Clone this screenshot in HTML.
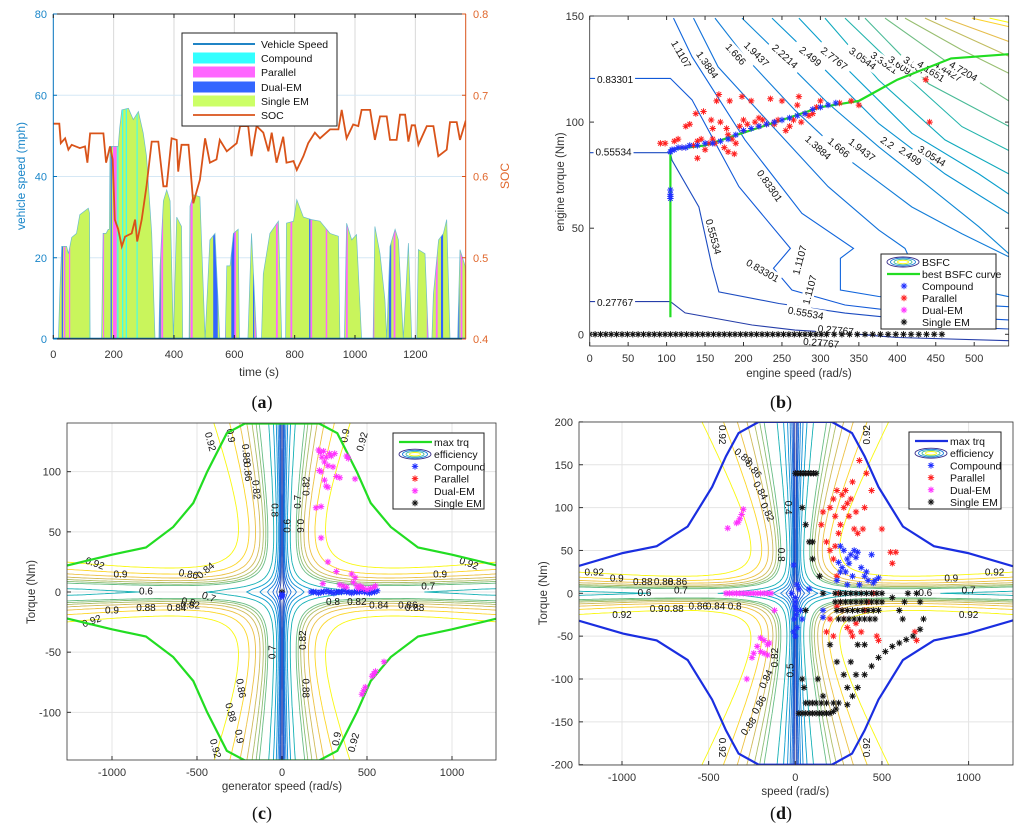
<!DOCTYPE html>
<html><head><meta charset="utf-8">
<style>
html,body{margin:0;padding:0;background:#fff;}
svg{display:block;font-family:"Liberation Sans",Arial,sans-serif;}
.tk{font-size:11px;fill:#333;}
.cl{font-size:10px;fill:#111;}
.lg{font-size:10.5px;fill:#111;}
.pl{font-family:"Liberation Serif",serif;font-size:18px;fill:#111;}
</style></head>
<body>
<svg id="fig" width="1024" height="826" viewBox="0 0 1024 826">
<defs>
<clipPath id="clipA"><rect x="53" y="14" width="413" height="325"/></clipPath>
<clipPath id="clipB"><rect x="590" y="16" width="419" height="330"/></clipPath>
<clipPath id="clipC"><rect x="67" y="423" width="429" height="337"/></clipPath>
<clipPath id="clipD"><rect x="579" y="422" width="434" height="343"/></clipPath>
<clipPath id="clipSpeed"><path id="speedClipPath" d=""/></clipPath>
</defs>
<g id="panelA"></g>
<g id="panelB"></g>
<g id="panelC"></g>
<g id="panelD"></g>
<text class="pl" x="262" y="408" text-anchor="middle">(<tspan font-weight="bold">a</tspan>)</text>
<text class="pl" x="781" y="408" text-anchor="middle">(<tspan font-weight="bold">b</tspan>)</text>
<text class="pl" x="262" y="819" text-anchor="middle">(<tspan font-weight="bold">c</tspan>)</text>
<text class="pl" x="781" y="819" text-anchor="middle">(<tspan font-weight="bold">d</tspan>)</text>
</svg>
<script>
// ===== Panel A data =====
const speedTime = [0,17,22,28,44,50,55,61,77,88,116,120,122,160,165,175,182,186,188,215,220,227,249,265,282,298,309,326,337,350,354,365,376,387,398,409,425,429,450,453,464,486,503,519,536,552,570,575,586,597,613,617,645,657,674,690,696,718,746,757,770,773,796,807,829,856,884,917,945,950,965,972,989,1005,1022,1060,1066,1083,1099,1105,1116,1133,1144,1160,1177,1188,1205,1210,1232,1243,1255,1260,1277,1293,1304,1315,1340,1348,1365,1370];
const speedValue = [0,0,12,22.8,22.8,21,22.8,25,26,30.6,32.2,31,0,0,26,26,27,27,47.4,47.4,52,56.4,56.8,54,56,50.7,45,26,0,0,18,34,36.7,34,0,30,27.7,0,0,32.7,35.5,35,0,24.4,26,0,0,18,18,26,27,0,0,26,0,0,16,26,29,0,0,28.5,29,34.3,30,29.4,29,26,25.3,0,0,28.5,24.4,25.7,0,0,27.7,21,9.7,0,22.8,27,24.4,0,23.6,0,0,22,21,0,0,11,24.4,26,29.4,0,0,22,18,10];
const modeStart = [28,35,52,120,165,190,198,212,228,240,276,352,358,448,455,530,568,590,600,662,668,738,757,786,848,853,903,970,1058,1112,1128,1238,1268,1285,1342,1350];
const modeEnd   = [32,40,56,124,168,194,210,216,232,244,279,356,364,452,462,545,572,604,606,666,672,744,761,792,852,858,908,976,1064,1120,1134,1242,1274,1292,1346,1356];
const modeType  = ['dual','par','par','comp','par','dual','par','comp','comp','comp','comp','dual','par','dual','par','dual','par','dual','par','dual','par','par','dual','par','dual','par','par','par','par','dual','par','par','par','dual','dual','par'];
const socTime = [0,20,25,39,50,61,88,105,113,122,166,175,188,197,204,215,227,238,260,271,278,293,309,326,348,365,376,392,409,414,425,448,464,486,503,519,541,552,575,608,619,646,657,674,696,713,724,740,762,773,796,807,829,845,867,884,917,945,956,972,994,1011,1022,1050,1066,1083,1105,1116,1138,1149,1166,1177,1188,1199,1210,1238,1260,1276,1304,1315,1337,1348,1365,1370];
const socValue = [0.665,0.665,0.641,0.647,0.633,0.639,0.635,0.637,0.617,0.653,0.653,0.617,0.637,0.621,0.547,0.535,0.514,0.526,0.530,0.547,0.520,0.547,0.588,0.643,0.643,0.588,0.588,0.647,0.645,0.606,0.639,0.639,0.567,0.596,0.647,0.617,0.621,0.645,0.631,0.641,0.662,0.662,0.625,0.662,0.654,0.631,0.654,0.617,0.649,0.617,0.619,0.608,0.625,0.641,0.654,0.647,0.658,0.658,0.682,0.647,0.664,0.662,0.682,0.682,0.645,0.674,0.674,0.645,0.645,0.676,0.676,0.643,0.663,0.663,0.639,0.662,0.662,0.625,0.633,0.667,0.667,0.645,0.666,0.660];
const aTimeTicks = [0,200,400,600,800,1000,1200];
const aSpeedTicks = [0,20,40,60,80];
const aSocTicks = [0.4,0.5,0.6,0.7,0.8];

// ===== Panel B data =====
const bsfcLabels = ['0.27767','0.55534','0.83301','1.1107','1.3884','1.666','1.9437','2.2214','2.499','2.7767','3.0544','3.3321','3.6097','3.8874','4.1651','4.4427','4.7204','5.0'];
const bsfcW = [
 [0,105,124,211,267,332,400,545],
 [0,105,107,142,159,168,246,332,462,527,545],
 [0,105,133,194,261,239,263,332,462,545],
 [109,133,202,276,343,326,326,376,462,545],
 [135,167,246,310,376,410,419,462,545],
 [163,202,267,332,419,484,545],
 [198,246,310,376,441,506,545],
 [237,289,376,462,545],
 [272,332,419,506,545],
 [306,376,462,545],
 [332,398,484,545],
 [358,441,545],
 [384,462,545],
 [410,484,545],
 [436,545],
 [462,545],
 [497,545],
 [520,545]];
const bsfcT = [
 [15.4,15.4,10.1,4.4,2.0,0.5,-1.5,-3],
 [85.6,85.6,82,60,31.9,20,14.5,10,5.3,2.8,2.5],
 [120.6,120.6,110.5,69.6,40.5,31.1,20.9,13.8,8.3,6.8],
 [149,130.8,91.6,57,40.5,35.8,20.9,17.8,14.6,13],
 [149,126,94.7,69.6,49.1,40.5,33.3,24.1,17.7],
 [149,130.8,105.6,83.6,60,47.4,36.5],
 [149,132,108.8,88.3,69.6,50.7,38],
 [149,130.8,99.3,75.6,56.8],
 [149,126,94.7,75.6,66],
 [149,119.7,91.6,75.6],
 [149,126,97.9,86.6],
 [149,118,98],
 [149,129,110],
 [149,134,123],
 [149,131],
 [149,138],
 [149,145],
 [149,147]];
const bestW = [105,105,150,200,250,300,350,400,470,545];
const bestT = [8,87,89,95,101,107,110,120,130,132];
const bCompW = [105,107,110,115,120,125,130,140,150,160,170,180,190,200,210,220,230,240,250,260,270,280,290,300,310,320,105,105,105,105];
const bCompT = [86,87,87,88,88,88,89,89,90,90,91,92,94,96,97,98,99,100,101,102,103,104,106,107,108,109,64,65,66,68];
const bParW = [92,98,110,115,120,125,130,135,138,140,145,148,150,155,158,160,163,165,168,170,175,178,180,182,185,188,190,195,198,200,205,210,215,220,225,230,235,240,245,250,255,260,265,270,272,275,280,285,290,295,300,325,340,350,437,442,140,160,180,200,220,240];
const bParT = [90,90,91,92,88,98,99,89,104,83,92,105,87,90,101,97,90,110,113,100,88,97,86,110,92,85,90,98,112,101,99,110,100,102,101,99,111,100,101,110,96,98,101,108,112,100,104,103,104,107,110,109,110,108,120,100,91,92,94,96,98,99];
const bSingleW = [0,7,14,21,28,35,42,49,56,63,70,77,84,91,98,105,112,119,126,133,140,147,154,161,168,175,182,189,196,203,210,217,224,231,238,245,252,259,266,273,280,287,294,301,308,318,328,338,348,358,368,378,388,398,408,418,428,438,448,458];
const bSingleT = [0,0,0,0,0,0,0,0,0,0,0,0,0,0,0,0,0,0,0,0,0,0,0,0,0,0,0,0,0,0,0,0,0,0,0,0,0,0,0,0,0,0,0,0,0,0,0,0,0,0,0,0,0,0,0,0,0,0,0,0];
const bSpeedTicks = [0,50,100,150,200,250,300,350,400,450,500];
const bTorqueTicks = [0,50,100,150];

// ===== Panel C data =====
const effLevels = [0.1,0.2,0.3,0.4,0.5,0.6,0.7,0.8,0.82,0.84,0.86,0.88,0.9,0.92];
const cMaxW = [-1265,-1000,-800,-640,-522,-440,-325,-218,218,325,440,522,640,800,1000,1265];
const cMaxT = [22,31,37,54,74,100,132,140,140,132,100,74,54,37,31,22];
const cCompW = [170,185,200,215,230,245,260,275,290,305,320,335,350,365,380,395,410,425,440,455,470,485,500,515,530,545,560,0,2,-2];
const cCompT = [0,0,0,-1,0,0,1,0,0,-1,0,0,0,1,0,0,-1,0,0,0,1,0,0,-1,0,0,1,-3,-2,-4];
const cDualW = [215,225,235,245,230,220,250,260,270,280,290,300,310,320,340,250,260,270,200,230,230,270,240,320,380,390,430,410,420,430,440,450,460,470,480,500,520,540,550,360,380,340,470,480,490,530,540,550,600];
const cDualT = [118,116,112,117,100,101,108,112,105,115,113,104,115,96,95,93,88,87,70,71,45,25,7,17,113,111,94,15,8,12,5,3,5,4,3,2,3,4,5,5,4,6,-85,-82,-79,-70,-68,-66,-58];
const cSingleW = [0];
const cSingleT = [0];
const cSpeedTicks = [-1000,-500,0,500,1000];
const cTorqueTicks = [-100,-50,0,50,100];

// ===== Panel D data =====
const dMaxW = [-1265,-994,-800,-621,-480,-400,-327,-211,211,327,400,480,621,800,994,1265];
const dMaxT = [31,47,55,78,124,160,187,200,200,187,160,124,78,55,47,31];
const dDualW = [-300,-310,-320,-330,-340,-390,-400,-380,-360,-340,-320,-300,-280,-260,-240,-220,-200,-180,-160,-140,-120,-200,-180,-160,-150,-220,-200,-180,-160,-240,-250,-280];
const dDualT = [98,92,87,83,82,76,0,0,0,0,0,0,0,0,0,0,0,0,0,0,-20,-52,-55,-60,-58,-62,-68,-70,-72,-70,-75,-100];
const dCompW = [0,0,5,-5,10,0,-20,20,10,-10,30,40,80,160,160,240,260,270,280,300,310,320,330,340,350,360,380,400,420,450,460,480,440,260,250,300,290,370,410,0,5,-10];
const dCompT = [-5,-10,-20,-30,-40,-50,0,5,10,33,-20,-30,5,-20,-28,15,25,30,50,40,35,45,20,50,42,48,30,20,15,12,15,18,45,55,36,10,25,10,25,-15,-25,-45];
const dParW = [150,160,200,220,230,240,250,260,270,280,290,300,310,320,330,340,350,360,370,390,400,410,440,500,550,580,560,180,200,220,230,240,250,260,270,280,300,320,330,350,380,400,420,450,470,480,180,200,220,240,700,690];
const dParT = [80,95,100,110,90,120,70,80,115,100,120,105,90,110,130,75,95,70,155,75,100,140,120,75,48,48,35,60,50,40,55,20,0,-10,-20,-30,-40,-45,-50,-35,-45,-20,-10,0,-50,-55,-45,-30,-50,-15,-55,-45];
const dSingleW = [0,15,30,45,60,75,90,105,120,20,40,60,80,100,120,140,160,180,200,220,235,230,260,290,320,350,380,410,440,470,500,230,260,290,320,350,380,410,440,470,500,240,270,300,330,360,390,420,450,480,250,280,310,340,370,400,430,460,300,330,360,400,440,480,520,560,600,640,680,720,740,720,700,650,630,600,620,560,60,80,100,120,150,180,220,250,300,350,40,60,80,100,140,160,200,240,280,320,360,400,40,50,60,100,130,160];
const dSingleT = [140,140,140,140,140,140,140,140,140,-140,-140,-140,-140,-140,-140,-140,-140,-140,-140,-138,-135,0,0,0,0,0,0,0,0,0,0,-10,-10,-10,-10,-10,-10,-10,-10,-10,-10,-20,-20,-20,-20,-20,-20,-20,-20,-20,-30,-30,-30,-30,-30,-30,-30,-30,-130,-120,-110,-95,-85,-75,-68,-62,-58,-54,-50,-42,-30,-10,0,0,-10,-20,-30,-5,-128,-128,-128,-128,-128,-128,-128,-128,-110,-95,100,80,60,40,20,0,-60,-80,-95,-80,-60,-60,-100,-110,-20,60,-100,-120];
const dSpeedTicks = [-1000,-500,0,500,1000];
const dTorqueTicks = [-200,-150,-100,-50,0,50,100,150,200];

// ===== helpers =====
const NS = 'http://www.w3.org/2000/svg';
function mk(parent, tag, attrs, txt){
  const e = document.createElementNS(NS, tag);
  for (const k in attrs) e.setAttribute(k, attrs[k]);
  if (txt !== undefined) e.textContent = txt;
  parent.appendChild(e);
  return e;
}
function starPath(pts){
  let d='';
  const r=3.2, q=2.3;
  for (const [x,y] of pts){
    d += `M${(x-r).toFixed(1)} ${y.toFixed(1)}h${2*r}M${x.toFixed(1)} ${(y-r).toFixed(1)}v${2*r}`;
    d += `M${(x-q).toFixed(1)} ${(y-q).toFixed(1)}l${2*q} ${2*q}M${(x-q).toFixed(1)} ${(y+q).toFixed(1)}l${2*q} ${-2*q}`;
  }
  return d;
}
function parula(f){
  const st=[[0,[53,42,135]],[0.2,[15,92,221]],[0.35,[18,125,216]],[0.5,[7,156,207]],[0.6,[21,177,180]],[0.7,[89,189,140]],[0.8,[165,190,107]],[0.88,[225,185,82]],[0.94,[252,206,46]],[1,[249,251,14]]];
  for (let i=1;i<st.length;i++){
    if (f<=st[i][0]){
      const a=st[i-1],b=st[i],t=(f-a[0])/(b[0]-a[0]);
      const c=a[1].map((v,k)=>Math.round(v+(b[1][k]-v)*t));
      return `rgb(${c[0]},${c[1]},${c[2]})`;
    }
  }
  return 'rgb(249,251,14)';
}
function eff(w,T){
  const Te=Math.sqrt(T*T+16);
  const P=Math.abs(w)*Te;
  const loss=0.212*T*T+0.001334*w*w+500;
  return P/(P+loss);
}
function contourPath(f,x0,x1,y0,y1,nx,ny,lvl,sx,sy){
  const g=[];
  for (let j=0;j<=ny;j++){ const row=[]; const T=y0+(y1-y0)*j/ny;
    for (let i=0;i<=nx;i++){ row.push(f(x0+(x1-x0)*i/nx,T)); } g.push(row); }
  const X=i=>sx(x0+(x1-x0)*i/nx), Y=j=>sy(y0+(y1-y0)*j/ny);
  let d='';
  for (let j=0;j<ny;j++) for (let i=0;i<nx;i++){
    const a=g[j][i],b=g[j][i+1],c=g[j+1][i+1],e=g[j+1][i];
    const p=[];
    if ((a<lvl)!==(b<lvl)) p.push([X(i+(lvl-a)/(b-a)),Y(j)]);
    if ((b<lvl)!==(c<lvl)) p.push([X(i+1),Y(j+(lvl-b)/(c-b))]);
    if ((e<lvl)!==(c<lvl)) p.push([X(i+(lvl-e)/(c-e)),Y(j+1)]);
    if ((a<lvl)!==(e<lvl)) p.push([X(i),Y(j+(lvl-a)/(e-a))]);
    if (p.length>=2) d+=`M${p[0][0].toFixed(1)} ${p[0][1].toFixed(1)}L${p[1][0].toFixed(1)} ${p[1][1].toFixed(1)}`;
    if (p.length===4) d+=`M${p[2][0].toFixed(1)} ${p[2][1].toFixed(1)}L${p[3][0].toFixed(1)} ${p[3][1].toFixed(1)}`;
  }
  return d;
}
function legendBox(g,x,y,w,h,name){
  const r=mk(g,'rect',{x,y,width:w,height:h,fill:'#fff',stroke:'#222','stroke-width':1});
  
  
}

// ===== Panel A =====
(function(){
  const g=document.getElementById('panelA');
  const px=t=>53.3+t*0.3017, py=v=>339-v*4.0625, ps=s=>339-(s-0.4)*812.5;
  for (const t of aTimeTicks){ if(t>0) mk(g,'line',{x1:px(t),x2:px(t),y1:14,y2:339,stroke:'#d8d8d8','stroke-width':1}); }
  for (const v of aSpeedTicks){ if(v>0&&v<80) mk(g,'line',{x1:53,x2:466,y1:py(v),y2:py(v),stroke:'#d6e8f5','stroke-width':1}); }
  let d=`M${px(speedTime[0])} ${py(0)}`;
  for (let i=0;i<speedTime.length;i++) d+=`L${px(speedTime[i]).toFixed(1)} ${py(speedValue[i]).toFixed(1)}`;
  d+=`L${px(speedTime[speedTime.length-1])} ${py(0)}Z`;
  document.getElementById('speedClipPath').setAttribute('d',d);
  const area=mk(g,'path',{d,fill:'#c9f55c',stroke:'none','clip-path':'url(#clipA)'});
  
  
  const cols={comp:'#33ffff',par:'#ff66ff',dual:'#3366ff'};
  const sg=mk(g,'g',{'clip-path':'url(#clipSpeed)'});
  
  
  for (let i=0;i<modeStart.length;i++){
    const r=mk(sg,'rect',{x:px(modeStart[i]),y:14,width:Math.max(1,px(modeEnd[i])-px(modeStart[i])),height:325,fill:cols[modeType[i]]});
    
    
  }
  const ol=mk(g,'path',{d,fill:'none',stroke:'#6cbccc','stroke-width':0.7,'clip-path':'url(#clipA)'});
  
  
  mk(g,'line',{x1:53,x2:466,y1:338.5,y2:338.5,stroke:'#0072BD','stroke-width':1.5});
  let s='';
  for (let i=0;i<socTime.length;i++) s+=(i?'L':'M')+px(socTime[i]).toFixed(1)+' '+ps(socValue[i]).toFixed(1);
  const sl=mk(g,'path',{d:s,fill:'none',stroke:'#D95319','stroke-width':1.8,'clip-path':'url(#clipA)'});
  
  
  mk(g,'line',{x1:53,x2:466,y1:14,y2:14,stroke:'#222','stroke-width':1});
  mk(g,'line',{x1:53,x2:466,y1:339,y2:339,stroke:'#222','stroke-width':1});
  mk(g,'line',{x1:53.3,x2:53.3,y1:14,y2:339,stroke:'#0072BD','stroke-width':1});
  mk(g,'line',{x1:465.7,x2:465.7,y1:14,y2:339,stroke:'#D95319','stroke-width':1});
  for (const t of aTimeTicks){
    mk(g,'line',{x1:px(t),x2:px(t),y1:339,y2:335,stroke:'#222'});
    mk(g,'line',{x1:px(t),x2:px(t),y1:14,y2:18,stroke:'#222'});
    const tx=mk(g,'text',{class:'tk',x:px(t),y:358,'text-anchor':'middle',fill:'#333'},String(t));
    
    
  }
  for (const v of aSpeedTicks){
    mk(g,'line',{x1:53,x2:57,y1:py(v),y2:py(v),stroke:'#0072BD'});
    const tx=mk(g,'text',{class:'tk',x:47,y:py(v)+4,'text-anchor':'end',style:'fill:#1a86c9'},String(v));
    
    
  }
  for (const v of aSocTicks){
    mk(g,'line',{x1:466,x2:462,y1:ps(v),y2:ps(v),stroke:'#D95319'});
    const tx=mk(g,'text',{class:'tk',x:473,y:ps(v)+4,style:'fill:#e0672c'},v.toFixed(1));
    
    
  }
  let t=mk(g,'text',{x:259,y:376,'text-anchor':'middle','font-size':'12px',fill:'#333'},'time (s)');
  
  
  t=mk(g,'text',{x:0,y:0,'text-anchor':'middle','font-size':'12px',fill:'#1a86c9',transform:'translate(25,176) rotate(-90)'},'vehicle speed (mph)');
  
  
  t=mk(g,'text',{x:0,y:0,'text-anchor':'middle','font-size':'12px',fill:'#e0672c',transform:'translate(509,176) rotate(-90)'},'SOC');
  
  
  const lg=mk(g,'g',{});
  
  
  legendBox(lg,182,33,155,93,'legend-box');
  const names=['Vehicle Speed','Compound','Parallel','Dual-EM','Single EM','SOC'];
  const ys=[44,58,72,87,101,115];
  const fills=[null,'#33ffff','#ff66ff','#3366ff','#ccff66',null];
  for (let i=0;i<6;i++){
    const e=mk(lg,'g',{});
    
    
    if (fills[i]) mk(e,'rect',{x:193,y:ys[i]-5.5,width:62,height:11,fill:fills[i]});
    else mk(e,'line',{x1:193,x2:255,y1:ys[i],y2:ys[i],stroke:i===0?'#0072BD':'#D95319','stroke-width':1.8});
    mk(e,'text',{class:'lg',x:261,y:ys[i]+4},names[i]);
  }
})();

// ===== Panel B =====
(function(){
  const g=document.getElementById('panelB');
  const bx=w=>589.7+w*0.769, by=T=>334.3-T*2.122;
  const cg=mk(g,'g',{'clip-path':'url(#clipB)'});
  
  
  for (let k=0;k<bsfcW.length;k++){
    let d='';
    for (let i=0;i<bsfcW[k].length;i++) d+=(i?'L':'M')+bx(bsfcW[k][i]).toFixed(1)+' '+by(bsfcT[k][i]).toFixed(1);
    const p=mk(cg,'path',{d,fill:'none',stroke:parula(0.08+0.92*k/(bsfcW.length-1)),'stroke-width':1.1});
    
    
  }
  const lblIdx=[2,1,0,3,4,5,6,7,8,9,10,11,12,13,14,15,16,2,1,0,3,4,5,6,7,8,10,3,2,1,0];
  const lblW=[33,31,33,119,153,190,217,254,287,318,355,383,406,426,444,466,486,234,161,320,273,297,324,354,396,417,445,286,225,281,301];
  const lblT=[120,86,15,132,127,132,132,131,131,130,130,128,126,126,124,124,124,70,46,2,35,88,88,87,88,84,84,21,30,10,-4];
  const lblA=[0,0,0,60,55,48,45,42,40,38,36,35,35,33,33,32,30,55,75,5,-75,42,40,38,35,35,32,-75,30,10,5];
  for (let i=0;i<lblIdx.length;i++){
    const x=bx(lblW[i]),y=by(lblT[i]);
    mk(g,'rect',{x:x-20,y:y-6,width:40,height:12,fill:'#fff',transform:`rotate(${lblA[i]} ${x} ${y})`});
    const t=mk(g,'text',{class:'cl',x,y:y+3.5,'text-anchor':'middle',transform:`rotate(${lblA[i]} ${x} ${y})`},bsfcLabels[lblIdx[i]]);
    
    
  }
  let d='';
  for (let i=0;i<bestW.length;i++) d+=(i?'L':'M')+bx(bestW[i]).toFixed(1)+' '+by(bestT[i]).toFixed(1);
  const bc=mk(g,'path',{d,fill:'none',stroke:'#22dd22','stroke-width':2.2,'clip-path':'url(#clipB)'});
  
  
  const sets=[[bSingleW,bSingleT,'#111','single-em-points'],[bParW,bParT,'#ff2020','parallel-points'],[bCompW,bCompT,'#2030ff','compound-points']];
  for (const [W,T,c,n] of sets){
    const p=mk(g,'path',{d:starPath(W.map((w,i)=>[bx(w),by(T[i])])),stroke:c,'stroke-width':1,fill:'none','clip-path':'url(#clipB)'});
    
    
  }
  mk(g,'rect',{x:589.7,y:16,width:419,height:330,fill:'none',stroke:'#333','stroke-width':0.8});
  for (const w of bSpeedTicks){
    mk(g,'line',{x1:bx(w),x2:bx(w),y1:346,y2:342,stroke:'#333'});
    mk(g,'line',{x1:bx(w),x2:bx(w),y1:16,y2:20,stroke:'#333'});
    const t=mk(g,'text',{class:'tk',x:bx(w),y:362,'text-anchor':'middle'},String(w));
    
    
  }
  for (const T of bTorqueTicks){
    mk(g,'line',{x1:590,x2:594,y1:by(T),y2:by(T),stroke:'#333'});
    mk(g,'line',{x1:1009,x2:1005,y1:by(T),y2:by(T),stroke:'#333'});
    const t=mk(g,'text',{class:'tk',x:584,y:by(T)+4,'text-anchor':'end'},String(T));
    
    
  }
  let t=mk(g,'text',{x:799,y:377,'text-anchor':'middle','font-size':'11.5px',fill:'#333'},'engine speed (rad/s)');
  
  
  t=mk(g,'text',{x:0,y:0,'text-anchor':'middle','font-size':'11.5px',fill:'#333',transform:'translate(564,182) rotate(-90)'},'engine torque (Nm)');
  
  
  const lg=mk(g,'g',{});
  
  
  legendBox(lg,881,254,115,75,'legend-box');
  const ys=[262,274,286,298,310,322];
  const names=['BSFC','best BSFC curve','Compound','Parallel','Dual-EM','Single EM'];
  const cols=[null,null,'#2030ff','#ff2020','#ff33ff','#111'];
  for (let i=0;i<6;i++){
    const e=mk(lg,'g',{});
    
    
    if (i===0){ for (let k=0;k<4;k++) mk(e,'ellipse',{cx:903,cy:262,rx:16-k*3.5,ry:5-k*1.1,fill:'none',stroke:parula(k/3),'stroke-width':0.9}); }
    else if (i===1) mk(e,'line',{x1:887,x2:920,y1:274,y2:274,stroke:'#22dd22','stroke-width':2.2});
    else mk(e,'path',{d:starPath([[904,ys[i]]]),stroke:cols[i],fill:'none'});
    mk(e,'text',{class:'lg',x:922,y:ys[i]+4},names[i]);
  }
})();

// ===== Efficiency panels C and D =====
function effPanel(gid,sx,sy,x0,x1,y0,y1,box,clip,maxW,maxT,maxCol,sets,sTicks,tTicks,xtitle,legendPos,labels){
  const g=document.getElementById(gid);
  for (const w of sTicks) mk(g,'line',{x1:sx(w),x2:sx(w),y1:box[1],y2:box[3],stroke:'#e4e4e4'});
  for (const T of tTicks) mk(g,'line',{x1:box[0],x2:box[2],y1:sy(T),y2:sy(T),stroke:'#e4e4e4'});
  const cg=mk(g,'g',{'clip-path':`url(#${clip})`});
  
  
  for (let k=0;k<effLevels.length;k++){
    const lv=effLevels[k];
    const col=parula(lv<0.8?lv*0.85:0.72+(lv-0.8)*2.3);
    const p=mk(cg,'path',{d:contourPath(eff,x0,x1,y0,y1,170,120,lv,sx,sy),fill:'none',stroke:col,'stroke-width':0.9});
    
    
  }
  for (const [lv,w,T,a] of labels){
    const x=sx(w),y=sy(T);
    const t=mk(g,'text',{class:'cl',x,y:y+3.5,'text-anchor':'middle',transform:`rotate(${a} ${x} ${y})`,'clip-path':`url(#${clip})`},lv);
    
    
  }
  let d1='',d2='';
  for (let i=0;i<maxW.length;i++){ d1+=(i?'L':'M')+sx(maxW[i]).toFixed(1)+' '+sy(maxT[i]).toFixed(1); d2+=(i?'L':'M')+sx(maxW[i]).toFixed(1)+' '+sy(-maxT[i]).toFixed(1); }
  const mc=mk(g,'path',{d:d1+d2,fill:'none',stroke:maxCol,'stroke-width':2.2,'clip-path':`url(#${clip})`});
  
  
  for (const [W,T,c,n] of sets){
    const p=mk(g,'path',{d:starPath(W.map((w,i)=>[sx(w),sy(T[i])])),stroke:c,'stroke-width':1,fill:'none','clip-path':`url(#${clip})`});
    
    
  }
  mk(g,'rect',{x:box[0],y:box[1],width:box[2]-box[0],height:box[3]-box[1],fill:'none',stroke:'#333','stroke-width':0.8});
  for (const w of sTicks){
    mk(g,'line',{x1:sx(w),x2:sx(w),y1:box[3],y2:box[3]-4,stroke:'#333'});
    const t=mk(g,'text',{class:'tk',x:sx(w),y:box[3]+16,'text-anchor':'middle'},String(w));
    
    
  }
  for (const T of tTicks){
    mk(g,'line',{x1:box[0],x2:box[0]+4,y1:sy(T),y2:sy(T),stroke:'#333'});
    const t=mk(g,'text',{class:'tk',x:box[0]-6,y:sy(T)+4,'text-anchor':'end'},String(T));
    
    
  }
  let t=mk(g,'text',{x:sx(0),y:box[3]+30,'text-anchor':'middle','font-size':'11.5px',fill:'#333'},xtitle);
  
  
  t=mk(g,'text',{x:0,y:0,'text-anchor':'middle','font-size':'11.5px',fill:'#333',transform:`translate(${box[0]-32},${sy(0)}) rotate(-90)`},'Torque (Nm)');
  
  
  const [lx,ly,lw,lh,sxc]=legendPos;
  const lg=mk(g,'g',{});
  
  
  legendBox(lg,lx,ly,lw,lh,'legend-box');
  const names=['max trq','efficiency','Compound','Parallel','Dual-EM','Single EM'];
  const cols=[maxCol,null,'#2030ff','#ff2020','#ff33ff','#111'];
  for (let i=0;i<6;i++){
    const y=ly+9+i*12.2;
    const e=mk(lg,'g',{});
    
    
    if (i===0) mk(e,'line',{x1:sxc-16,x2:sxc+17,y1:y,y2:y,stroke:maxCol,'stroke-width':2.2});
    else if (i===1){ for (let k=0;k<4;k++) mk(e,'ellipse',{cx:sxc,cy:y,rx:16-k*3.5,ry:5-k*1.1,fill:'none',stroke:parula(k/3),'stroke-width':0.9}); }
    else mk(e,'path',{d:starPath([[sxc,y]]),stroke:cols[i],fill:'none'});
    mk(e,'text',{class:'lg',x:sxc+19,y:y+4},names[i]);
  }
}
effPanel('panelC',w=>282+w*0.17,T=>592-T*1.2033,-1265,1265,-141,141,[67,423,496,760],'clipC',
  cMaxW,cMaxT,'#22dd22',
  [[cSingleW,cSingleT,'#111','single-em-points'],[cCompW,cCompT,'#2030ff','compound-points'],[cDualW,cDualT,'#ff33ff','dual-em-points']],
  cSpeedTicks,cTorqueTicks,'generator speed (rad/s)',[393,433,91,76,415],
  [['0.92',-1100,24,20],['0.9',-950,15,0],['0.88',-800,-13,0],['0.6',-800,1,0],['0.86',-550,15,10],['0.84',-450,18,-40],['0.8',-550,-8,10],['0.7',-430,-4,20],['0.84',-620,-13,0],['0.82',-540,-11,0],['0.9',-1000,-15,0],['0.92',-1120,-24,-20],['0.92',1100,24,20],['0.9',930,15,0],['0.88',780,-13,0],['0.86',740,-11,0],['0.84',570,-11,0],['0.82',440,-8,0],['0.7',860,5,0],['0.8',300,-8,0],['0.92',-420,125,75],['0.9',-300,130,80],['0.88',-210,115,85],['0.86',-200,100,85],['0.82',-150,85,85],['0.8',-40,68,90],['0.6',30,55,-90],['0.7',90,75,-90],['0.6',110,55,90],['0.82',140,88,-90],['0.88',140,-80,90],['0.86',-240,-80,80],['0.88',-300,-100,75],['0.9',-250,-120,80],['0.92',-390,-130,75],['0.9',370,130,-80],['0.92',470,125,-75],['0.92',420,-125,-75],['0.9',320,-122,-80],['0.7',-60,-50,-90],['0.82',120,-40,-90]]);
effPanel('panelD',w=>795.3+w*0.1733,T=>593.3-T*0.857,-1265,1265,-201,201,[579,422,1013,765],'clipD',
  dMaxW,dMaxT,'#1a2ee0',
  [[dDualW,dDualT,'#ff33ff','dual-em-points'],[dParW,dParT,'#ff2020','parallel-points'],[dCompW,dCompT,'#2030ff','compound-points'],[dSingleW,dSingleT,'#111','single-em-points']],
  dSpeedTicks,dTorqueTicks,'speed (rad/s)',[909,432,92,77,931],
  [['0.92',-1160,25,0],['0.9',-1030,18,0],['0.88',-880,14,0],['0.88',-760,14,0],['0.86',-680,14,0],['0.6',-870,1,0],['0.7',-660,4,0],['0.92',-1000,-25,0],['0.9',-800,-18,0],['0.88',-700,-18,0],['0.86',-560,-15,0],['0.84',-460,-15,0],['0.8',-350,-15,0],['0.92',1150,25,0],['0.9',900,18,0],['0.6',750,1,0],['0.7',1000,4,0],['0.92',1000,-25,0],['0.92',-420,185,90],['0.88',-300,160,40],['0.86',-240,145,50],['0.84',-200,120,60],['0.82',-160,95,65],['0.8',-80,45,90],['0.92',-420,-180,90],['0.88',-270,-155,-55],['0.86',-210,-130,-60],['0.84',-170,-100,-65],['0.82',-120,-75,-90],['0.92',410,185,-90],['0.92',410,-180,-90],['0.5',-30,-90,-90],['0.4',-40,100,90]]);
</script>
</body></html>
